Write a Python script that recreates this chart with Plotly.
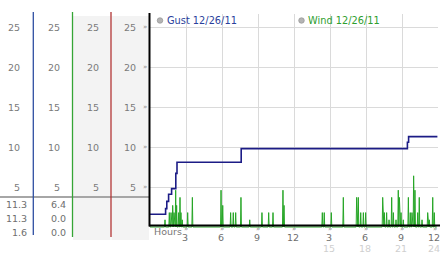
import plotly.graph_objects as go

W, H = 442, 253

# ---------------- data ----------------
gust_hours = [0, 1.3, 1.4, 1.55, 1.8, 2.15, 2.25, 7.6, 21.45, 21.55, 23.95]
gust_values = [1.6, 2.3, 3.2, 4.1, 4.8, 6.7, 8.1, 9.8, 10.6, 11.3, 11.3]

wind_spike_hours = [1.25, 1.61, 1.75, 1.89, 2.00, 2.14, 2.22, 2.39, 2.50, 2.58, 2.69,
                    3.14, 3.53, 5.92, 6.06, 6.72, 6.94, 7.14, 7.58, 8.31, 9.33, 9.89,
                    10.25, 11.08, 11.17, 14.36, 14.52, 15.11, 16.11, 17.22, 17.36,
                    17.56, 17.78, 17.97, 19.39, 19.53, 19.72, 19.92, 20.14, 20.28,
                    20.50, 20.69, 20.78, 20.92, 21.11, 21.53, 21.69, 21.83, 21.97,
                    22.08, 22.31, 22.44, 22.67, 23.14, 23.28, 23.56, 23.69]
wind_spike_values = [0.9, 1.8, 1.8, 2.7, 1.8, 4.6, 2.7, 1.8, 3.7, 1.8, 0.9,
                     1.8, 3.7, 4.6, 2.7, 1.8, 1.8, 1.8, 3.7, 0.9, 1.8, 1.8,
                     1.8, 4.6, 2.7, 1.8, 1.8, 1.8, 3.7, 3.7, 3.7,
                     1.8, 1.8, 1.8, 3.7, 1.8, 1.8, 0.9, 3.7, 1.8,
                     0.9, 4.6, 3.7, 1.8, 0.9, 3.7, 1.8, 1.8, 6.4,
                     4.6, 1.8, 3.7, 0.9, 1.8, 0.9, 3.7, 1.8]
wind_start_end = [0, 23.9]

y_ticks = [5, 10, 15, 20, 25]
x_ticks = [3, 6, 9, 12, 15, 18, 21, 24]
x_labels = ["3", "6", "9", "12", "3", "6", "9", "12"]
x_labels2 = ["", "", "", "", "15", "18", "21", "24"]

gust_label = "Gust 12/26/11"
wind_label = "Wind 12/26/11"

# ---------------- helpers ----------------
def px(x):
    return x / W

def py(y):
    return 1 - y / H

FONT = "Verdana, DejaVu Sans, sans-serif"
GUST_C = "#1c1c86"
WIND_C = "#26a626"

# build wind series: baseline zeros around each reading
wx = [wind_start_end[0]]
wy = [0]
for h, v in zip(wind_spike_hours, wind_spike_values):
    wx += [h - 0.04, h, h + 0.04]
    wy += [0, v, 0]
wx.append(wind_start_end[1])
wy.append(0)

fig = go.Figure()
fig.add_trace(go.Scatter(x=wx, y=wy, mode="lines",
                         line=dict(color=WIND_C, width=1), hoverinfo="skip"))
fig.add_trace(go.Scatter(x=gust_hours, y=gust_values, mode="lines",
                         line=dict(color=GUST_C, width=1.6, shape="hv"), hoverinfo="skip"))

shapes = []
# grey column backgrounds
for x0, x1 in [(73, 110.5), (111.5, 149)]:
    shapes.append(dict(type="rect", xref="paper", yref="paper",
                       x0=px(x0), x1=px(x1), y0=py(240), y1=py(16),
                       fillcolor="#f3f3f3", line=dict(width=0), layer="below"))
# horizontal separator
shapes.append(dict(type="line", xref="paper", yref="paper",
                   x0=0, x1=px(149), y0=py(197), y1=py(197),
                   line=dict(color="#a6a6a6", width=2)))
# coloured column lines
for xx, col, yb in [(33.3, "#2e4ea2", 235), (72.5, "#35a535", 237), (111, "#b03434", 237)]:
    shapes.append(dict(type="line", xref="paper", yref="paper",
                       x0=px(xx), x1=px(xx), y0=py(yb), y1=py(12),
                       line=dict(color=col, width=1.3)))
# black axes
shapes.append(dict(type="line", xref="paper", yref="paper",
                   x0=px(149.5), x1=px(149.5), y0=py(226.5), y1=py(13),
                   line=dict(color="black", width=2)))
shapes.append(dict(type="line", xref="paper", yref="paper",
                   x0=px(149), x1=px(440), y0=py(225.5), y1=py(225.5),
                   line=dict(color="black", width=2)))
# legend dots
for cx in [160, 301.5]:
    shapes.append(dict(type="circle", xref="paper", yref="paper",
                       x0=px(cx - 2.8), x1=px(cx + 2.8), y0=py(23.3), y1=py(17.7),
                       fillcolor="#b4b4b4", line=dict(color="#8c8c8c", width=0.6)))

ann = []
def text(x, y, t, color="#7a7a7a", size=9.5, xanchor="right", xref="paper", yref="paper",
         xshift=0):
    ann.append(dict(x=x, y=y, xref=xref, yref=yref, text=t, showarrow=False,
                    xanchor=xanchor, yanchor="middle", xshift=xshift, borderpad=0,
                    font=dict(family=FONT, size=size, color=color)))

# left panel y labels
for v in y_ticks:
    for right in [20.5, 60.5, 99.5, 137]:
        text(px(right), v, str(v), yref="y")
    text(px(148), v, "»", color="#8a8a8a", size=7, yref="y")

# stats
gust_stats = [max(gust_values), gust_values[-1], min(gust_values)]
wind_stats = [max(wind_spike_values), wy[-1], min(wy)]
for i, yy in enumerate([204.5, 218.5, 232.3]):
    text(px(27.5), py(yy), f"{gust_stats[i]:.1f}", color="#6e6e6e")
    text(px(67), py(yy), f"{wind_stats[i]:.1f}", color="#6e6e6e")

# legend text
text(px(165.5), py(20.5), gust_label, color="#2a3f9c", size=9.8, xanchor="left")
text(px(306.5), py(20.5), wind_label, color="#2e9e2e", size=9.8, xanchor="left")

# x labels
text(0, py(231.5), "Hours", color="#777777", size=9.5, xanchor="left", xref="x", xshift=3)
for h, l1, l2 in zip(x_ticks, x_labels, x_labels2):
    shift = -3 if h == 24 else 0
    text(h, py(229), "»", color="#8a8a8a", size=7, xanchor="center", xref="x", xshift=shift)
    text(h, py(237.5), l1, color="#6e6e6e", size=9.5, xanchor="center", xref="x",
         xshift=shift - 1)
    if l2:
        text(h, py(248.5), l2, color="#cfcfcf", size=9.5, xanchor="center", xref="x",
             xshift=shift - 1)

fig.update_layout(
    width=W, height=H,
    margin=dict(l=0, r=0, t=0, b=0),
    paper_bgcolor="white", plot_bgcolor="white",
    showlegend=False,
    shapes=shapes, annotations=ann,
    xaxis=dict(domain=[px(150), px(438)], range=[0, 24], tickvals=x_ticks,
               showticklabels=False, showgrid=True, gridcolor="#dadada", gridwidth=1,
               zeroline=False, showline=False, ticks=""),
    yaxis=dict(domain=[py(228), py(14)], range=[-0.125, 26.625], tickvals=y_ticks,
               showticklabels=False, showgrid=True, gridcolor="#dadada", gridwidth=1,
               zeroline=False, showline=False, ticks=""),
)

fig.write_html("out.html")
